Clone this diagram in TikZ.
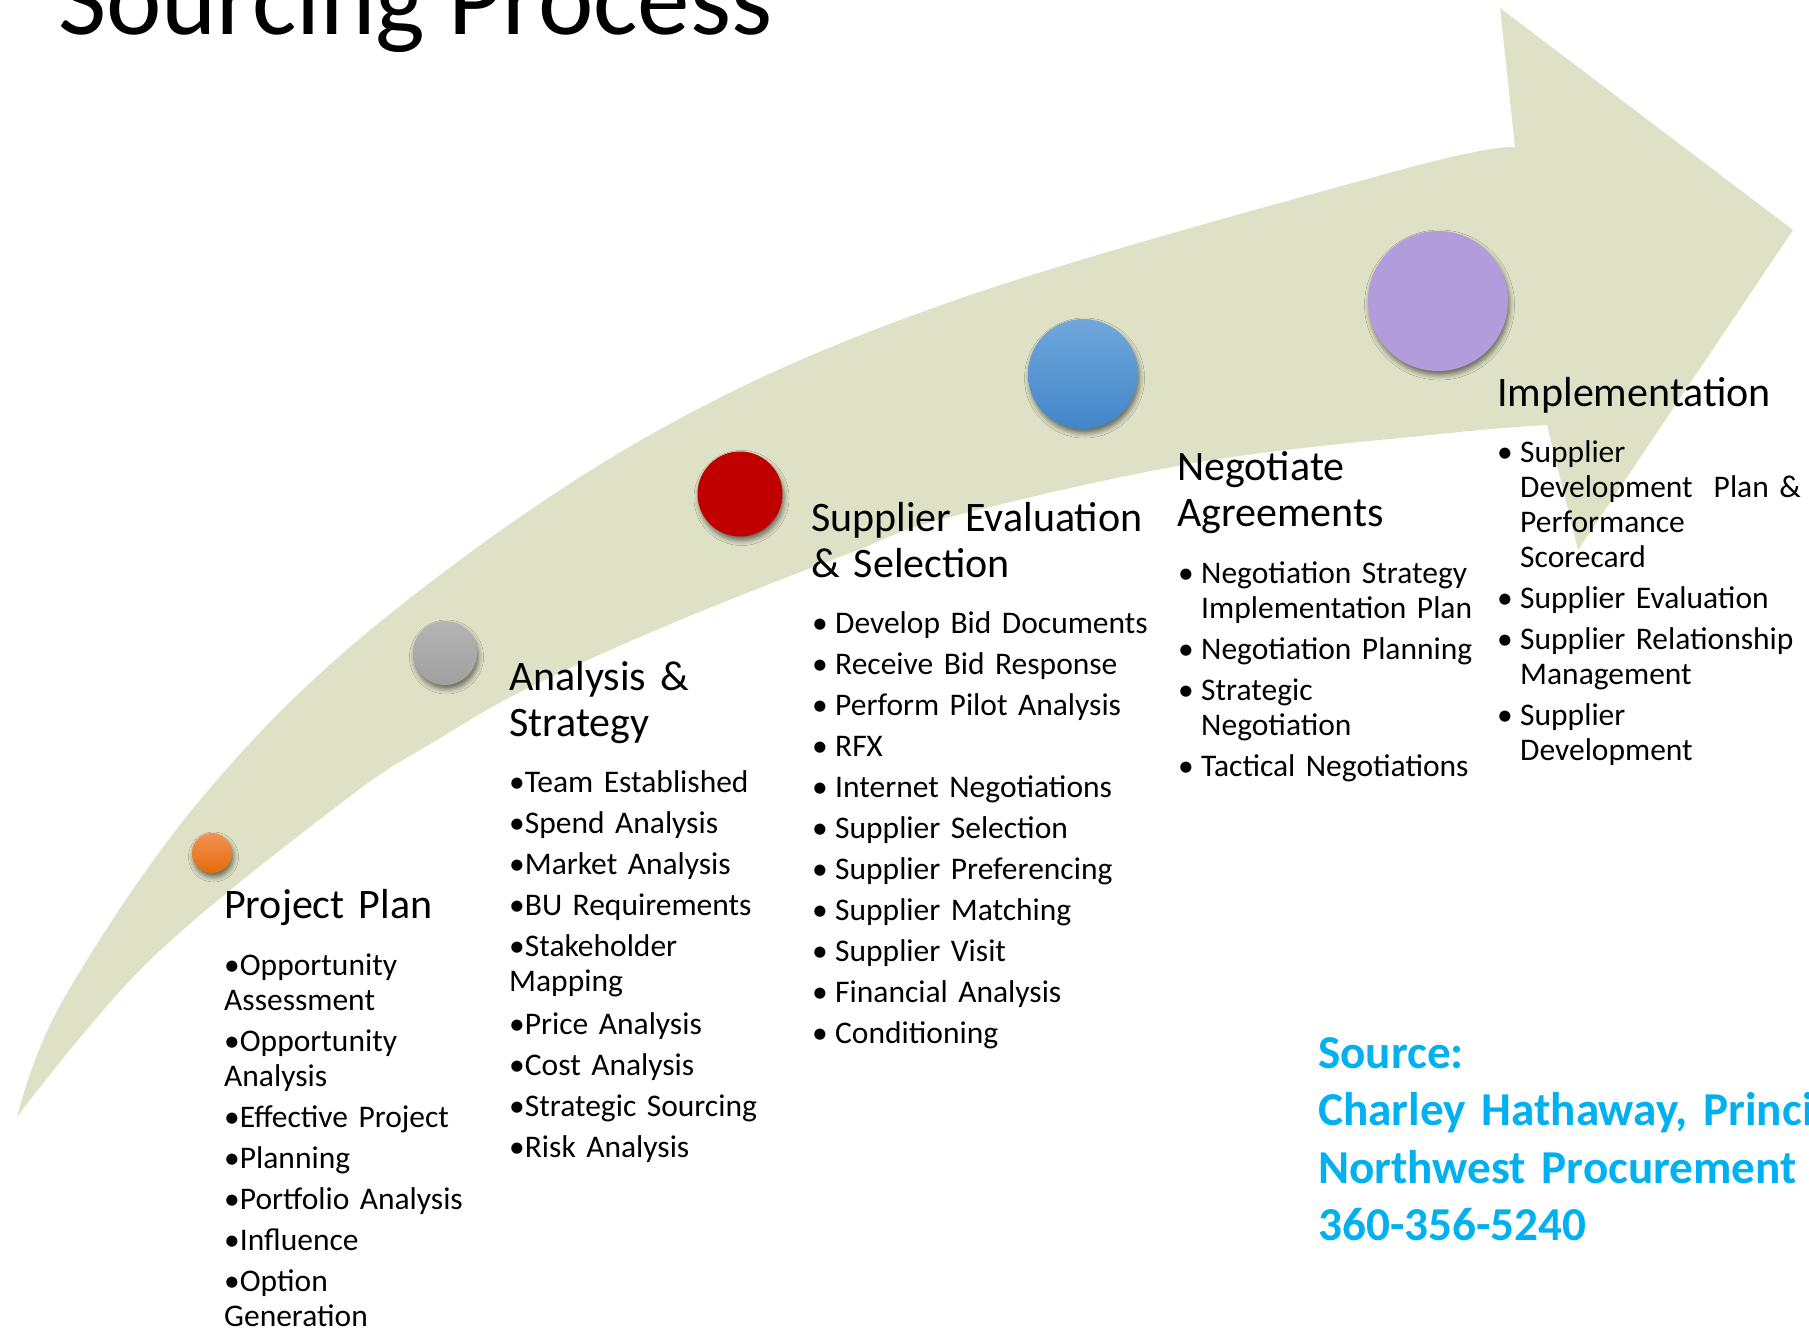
\documentclass[tikz,border=0pt]{standalone}
\usepackage{fontspec}
\setmainfont{Carlito}
\usetikzlibrary{shadows.blur}
\definecolor{SageArrow}{RGB}{223,225,198}
\definecolor{PlanOrangeTop}{RGB}{242,146,84}
\definecolor{PlanOrangeBot}{RGB}{228,108,10}
\definecolor{StrategyGreyTop}{RGB}{180,180,180}
\definecolor{StrategyGreyBot}{RGB}{160,160,160}
\definecolor{SelectRed}{RGB}{192,0,0}
\definecolor{NegotiateBlueTop}{RGB}{112,167,220}
\definecolor{NegotiateBlueBot}{RGB}{66,134,200}
\definecolor{ImplLavender}{RGB}{178,157,220}
\definecolor{SourceCyan}{RGB}{0,176,240}
\newcommand{\itm}{\makebox[23pt][l]{•}}
\newcommand{\cont}{\hspace*{23pt}}
\newcommand{\tightspace}{\spaceskip=0.15em\relax}

\begin{document}
\begin{tikzpicture}[x=1pt, y=-1pt,
    dot/.style={circle, inner sep=0pt, blur shadow={shadow xshift=1.5pt, shadow yshift=-4pt, shadow blur radius=5pt, shadow opacity=55}},
    phase/.style={anchor=base west, inner sep=0pt, text width=340pt, align=left, font=\fontsize{42}{46}\selectfont},
    items/.style={anchor=base west, inner sep=0pt, text width=340pt, align=left, font=\fontsize{31.5}{35}\selectfont}]
    \useasboundingbox (0,0) rectangle (1809,1331);
    \clip (0,0) rectangle (1809,1331);
    \fill[SageArrow] plot[smooth, tension=0.6] coordinates {(17,1117) (63,1000) (200,800) (380,622) (650,435) (950,302) (1400,170) (1515,147)}
        -- (1500,8) -- (1793,230) -- (1578,550) -- (1547,425)
        -- plot[smooth, tension=0.6] coordinates {(1547,425) (1450,433) (1200,462) (950,517) (850,553) (680,620) (530,687) (437,740) (345,800) (150,960) (17,1117)} -- cycle;

    \node[anchor=base west, inner sep=0pt, font=\fontsize{105}{110}\selectfont] (title) at (58,34) {Sourcing Process};

    \node[dot, minimum size=40pt, top color=PlanOrangeTop, bottom color=PlanOrangeBot] (dotPlan) at (212,853) {};
    \node[dot, minimum size=64pt, top color=StrategyGreyTop, bottom color=StrategyGreyBot] (dotStrategy) at (445,653) {};
    \node[dot, minimum size=85pt, fill=SelectRed] (dotSelect) at (740,494) {};
    \node[dot, minimum size=110pt, top color=NegotiateBlueTop, bottom color=NegotiateBlueBot] (dotNegotiate) at (1083,374) {};
    \node[dot, minimum size=140pt, fill=ImplLavender] (dotImpl) at (1438,301) {};

    \node[phase] (headPlan) at (224,918) {Project Plan};
    \node[items] (listPlan) at (224,975) {•Opportunity\\Assessment\\[6pt]•Opportunity\\Analysis\\[6pt]•Effective Project\\[6pt]•Planning\\[6pt]•Portfolio Analysis\\[6pt]•Influence\\[6pt]•Option\\Generation};

    \node[phase] (headStrategy) at (509,690) {Analysis \&\\Strategy};
    \node[items] (listStrategy) at (509,792) {•Team Established\\[6pt]•Spend Analysis\\[6pt]•Market Analysis\\[6pt]•BU Requirements\\[6pt]•Stakeholder\\Mapping\\[8pt]•Price Analysis\\[6pt]•Cost Analysis\\[6pt]•Strategic Sourcing\\[6pt]•Risk Analysis};

    \node[phase] (headSelect) at (811,531) {Supplier Evaluation\\\& Selection};
    \node[items] (listSelect) at (812,633) {\itm Develop Bid Documents\\[6pt]\itm Receive Bid Response\\[6pt]\itm Perform Pilot Analysis\\[6pt]\itm RFX\\[6pt]\itm Internet Negotiations\\[6pt]\itm Supplier Selection\\[6pt]\itm Supplier Preferencing\\[6pt]\itm Supplier Matching\\[6pt]\itm Supplier Visit\\[6pt]\itm Financial Analysis\\[6pt]\itm Conditioning};

    \node[phase] (headNegotiate) at (1177,480) {Negotiate\\Agreements};
    \node[items] (listNegotiate) at (1178,583) {\itm Negotiation Strategy\\\cont Implementation Plan\\[6pt]\itm Negotiation Planning\\[6pt]\itm Strategic\\\cont Negotiation\\[6pt]\itm Tactical Negotiations};

    \node[phase] (headImpl) at (1497,406) {Implementation};
    \node[items] (listImpl) at (1497,462) {\itm Supplier\\\cont Development~ Plan \&\\\cont Performance\\\cont Scorecard\\[6pt]\itm Supplier Evaluation\\[6pt]\itm Supplier Relationship\\\cont Management\\[6pt]\itm Supplier\\\cont Development};

    \node[anchor=base west, inner sep=0pt, text width=600pt, align=left, text=SourceCyan, font=\fontsize{47.2}{57.5}\selectfont\bfseries\tightspace] (source) at (1318,1068) {Source:\\Charley Hathaway, Princi\\Northwest Procurement\\360-356-5240};
\end{tikzpicture}
\end{document}
